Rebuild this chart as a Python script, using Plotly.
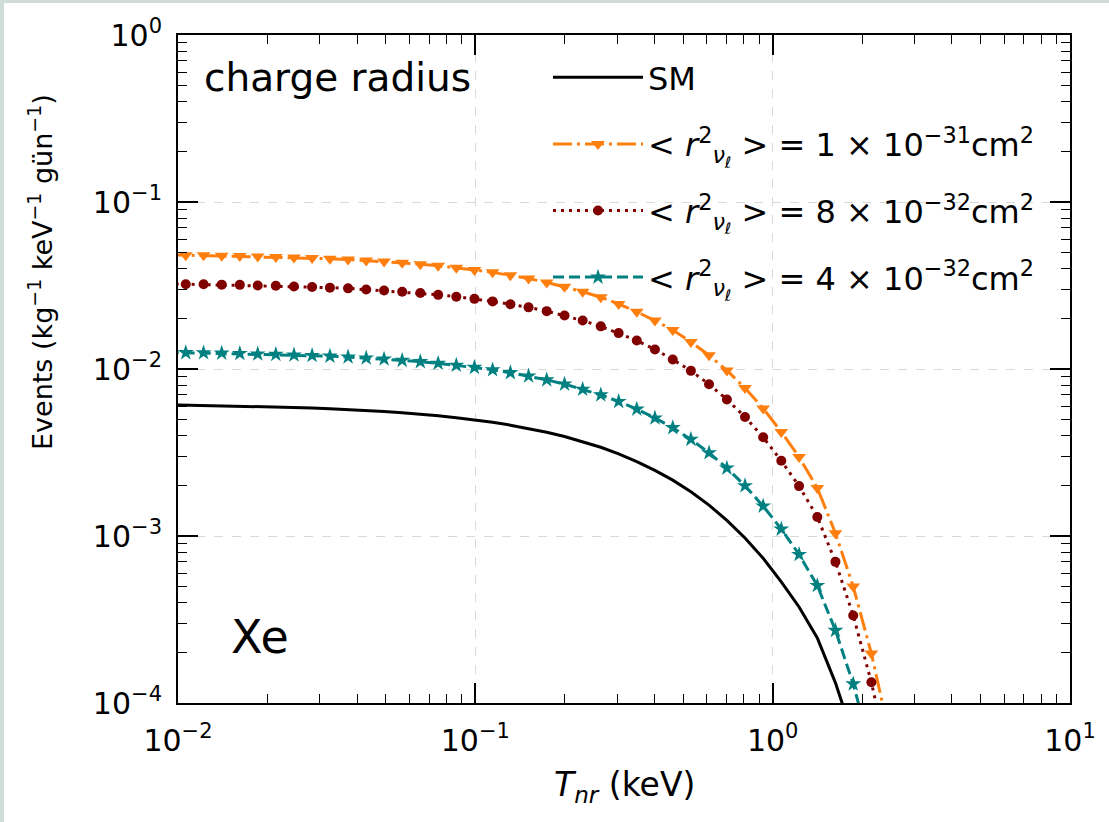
import plotly.graph_objects as go

# Recoil energy grid (keV)
T_nr = [0.00923, 0.01062, 0.01219, 0.01403, 0.01614, 0.01854, 0.02133, 0.02455, 0.02825, 0.03243,
        0.03733, 0.04295, 0.04932, 0.05675, 0.06531, 0.07499, 0.0863, 0.09931, 0.1143, 0.1312,
        0.151, 0.1738, 0.1995, 0.2296, 0.2642, 0.3034, 0.3491, 0.4018, 0.4613, 0.5309,
        0.6109, 0.7015, 0.8072, 0.929, 1.069, 1.227, 1.413, 1.626, 1.866, 2.148, 2.472]

sm = [6.11e-3, 6.08e-3, 6.07e-3, 6.04e-3, 6.01e-3, 5.97e-3, 5.94e-3, 5.89e-3, 5.85e-3, 5.79e-3,
      5.73e-3, 5.65e-3, 5.57e-3, 5.47e-3, 5.37e-3, 5.25e-3, 5.11e-3, 4.96e-3, 4.80e-3, 4.61e-3,
      4.41e-3, 4.18e-3, 3.94e-3, 3.67e-3, 3.40e-3, 3.10e-3, 2.79e-3, 2.47e-3, 2.16e-3, 1.84e-3,
      1.53e-3, 1.24e-3, 9.73e-4, 7.35e-4, 5.32e-4, 3.76e-4, 2.45e-4, 1.32e-4, 6.3e-5, 2.5e-5, 8.1e-6]

r2_1e31 = [0.0483, 0.0480, 0.0480, 0.0477, 0.0475, 0.0472, 0.0469, 0.0465, 0.0462, 0.0457,
           0.0453, 0.0446, 0.0440, 0.0432, 0.0424, 0.0415, 0.0404, 0.0392, 0.0379, 0.0364,
           0.0348, 0.0330, 0.0311, 0.0290, 0.0269, 0.0245, 0.0220, 0.0195, 0.0171, 0.0145,
           0.0121, 0.0098, 0.00769, 0.00581, 0.00420, 0.00297, 0.00194, 0.00104, 0.000498, 0.000198, 0.000064]

r2_8e32 = [0.0324, 0.0322, 0.0322, 0.0320, 0.0319, 0.0316, 0.0315, 0.0312, 0.0310, 0.0307,
           0.0304, 0.0299, 0.0295, 0.0290, 0.0285, 0.0278, 0.0271, 0.0263, 0.0254, 0.0244,
           0.0234, 0.0222, 0.0209, 0.0195, 0.0180, 0.0164, 0.0148, 0.0131, 0.0114, 0.00975,
           0.00811, 0.00657, 0.00516, 0.00390, 0.00282, 0.00199, 0.00130, 0.000700, 0.000334, 0.000133, 0.000043]

r2_4e32 = [0.01259, 0.01252, 0.01250, 0.01244, 0.01238, 0.01230, 0.01224, 0.01213, 0.01205, 0.01193,
           0.01180, 0.01164, 0.01147, 0.01127, 0.01106, 0.01082, 0.01053, 0.01022, 0.00989, 0.00950,
           0.00908, 0.00861, 0.00812, 0.00756, 0.00700, 0.00639, 0.00575, 0.00509, 0.00445, 0.00379,
           0.00315, 0.00255, 0.00200, 0.00151, 0.00110, 0.000775, 0.000505, 0.000272, 0.000130, 0.0000515, 0.0000167]

x_major = [0.01, 0.1, 1, 10]
x_major_text = ["10<sup>−2</sup>", "10<sup>−1</sup>", "10<sup>0</sup>", "10<sup>1</sup>"]
y_major = [1e-4, 1e-3, 1e-2, 1e-1, 1]
y_major_text = ["10<sup>−4</sup>", "10<sup>−3</sup>", "10<sup>−2</sup>", "10<sup>−1</sup>", "10<sup>0</sup>"]

x_minor = [m * d for d in (0.01, 0.1, 1) for m in range(2, 10)]
y_minor = [m * d for d in (1e-4, 1e-3, 1e-2, 1e-1) for m in range(2, 10)]

labels = ["SM",
          "&lt; <i>r</i><sup>2</sup><sub><i>ν</i><sub>ℓ</sub></sub> &gt; = 1 × 10<sup>−31</sup>cm<sup>2</sup>",
          "&lt; <i>r</i><sup>2</sup><sub><i>ν</i><sub>ℓ</sub></sub> &gt; = 8 × 10<sup>−32</sup>cm<sup>2</sup>",
          "&lt; <i>r</i><sup>2</sup><sub><i>ν</i><sub>ℓ</sub></sub> &gt; = 4 × 10<sup>−32</sup>cm<sup>2</sup>"]

FONT = "DejaVu Sans"
fig = go.Figure()
fig.add_trace(go.Scatter(x=T_nr, y=sm, mode="lines", name=labels[0], legendgroup="a",
                         line=dict(color="black", width=3)))
fig.add_trace(go.Scatter(x=T_nr, y=r2_1e31, mode="lines+markers", name=labels[1], legendgroup="b",
                         line=dict(color="#ff7f0e", width=3, dash="19px,5px,3px,5px"),
                         marker=dict(symbol="triangle-down", size=12, color="#ff7f0e")))
fig.add_trace(go.Scatter(x=T_nr, y=r2_8e32, mode="lines+markers", name=labels[2], legendgroup="c",
                         line=dict(color="#800000", width=3, dash="3px,5px"),
                         marker=dict(symbol="circle", size=10, color="#800000")))
fig.add_trace(go.Scatter(x=T_nr, y=r2_4e32, mode="lines+markers", name=labels[3], legendgroup="d",
                         line=dict(color="#008080", width=3, dash="11px,5px"),
                         marker=dict(symbol="star", size=12, color="#008080")))

axis_common = dict(
    type="log", showline=True, linecolor="black", linewidth=2, mirror="ticks",
    ticks="inside", ticklen=20, tickwidth=1.5, tickcolor="black",
    showgrid=True, gridcolor="#d9d9d9", gridwidth=1, griddash="dash",
    zeroline=False, tickfont=dict(family=FONT, size=30, color="black"),
)

fig.update_xaxes(range=[-2, 1], tickmode="array", tickvals=x_major, ticktext=x_major_text,
                 ticklabelstandoff=10,
                 minor=dict(tickmode="array", tickvals=x_minor, ticks="inside", ticklen=9,
                            tickwidth=1.2, tickcolor="black", showgrid=False),
                 **axis_common)
fig.update_yaxes(range=[-4, 0], tickmode="array", tickvals=y_major, ticktext=y_major_text,
                 ticklabelstandoff=8,
                 minor=dict(tickmode="array", tickvals=y_minor, ticks="inside", ticklen=9,
                            tickwidth=1.2, tickcolor="black", showgrid=False),
                 **axis_common)

W, H = 1109, 822
ml, mr, mt, mb = 178, 39, 35, 119
pw, ph = W - ml - mr, H - mt - mb

fig.update_layout(
    width=W, height=H,
    margin=dict(l=ml, r=mr, t=mt, b=mb, autoexpand=False),
    paper_bgcolor="white", plot_bgcolor="white",
    font=dict(family=FONT, color="black"),
    showlegend=True,
    legend=dict(x=(548 - ml) / pw, y=1 - (50 - mt) / ph, xanchor="left", yanchor="top",
                bgcolor="rgba(0,0,0,0)", borderwidth=0,
                font=dict(family=FONT, size=32, color="black"),
                traceorder="grouped", tracegroupgap=22, itemwidth=90),
    annotations=[
        dict(text="charge radius", x=(202 - ml) / pw, y=1 - (78 - mt) / ph, xref="paper", yref="paper",
             xanchor="left", yanchor="middle", showarrow=False,
             font=dict(family=FONT, size=39, color="black")),
        dict(text="Xe", x=(229 - ml) / pw, y=1 - (637 - mt) / ph, xref="paper", yref="paper",
             xanchor="left", yanchor="middle", showarrow=False,
             font=dict(family=FONT, size=46, color="black")),
        dict(text="Events (kg<sup>−1</sup> keV<sup>−1</sup> gün<sup>−1</sup>)",
             x=(40 - ml) / pw, y=1 - (272 - mt) / ph, xref="paper", yref="paper",
             xanchor="center", yanchor="middle", textangle=-90, showarrow=False,
             font=dict(family=FONT, size=27, color="black")),
        dict(text="<i>T</i><sub><i>nr</i></sub> (keV)",
             x=0.5, y=1 - (786 - mt) / ph, xref="paper", yref="paper",
             xanchor="center", yanchor="middle", showarrow=False,
             font=dict(family=FONT, size=33, color="black")),
    ],
    shapes=[
        dict(type="rect", xref="paper", yref="paper", x0=-ml / pw, x1=(4 - ml) / pw,
             y0=-mb / ph, y1=1 + mt / ph, fillcolor="#d0dcd8", line=dict(width=0), layer="below"),
        dict(type="rect", xref="paper", yref="paper", x0=-ml / pw, x1=1 + mr / pw,
             y0=1 + (mt - 3) / ph, y1=1 + mt / ph, fillcolor="#d0dcd8", line=dict(width=0), layer="below"),
    ],
)

fig.write_html("out.html")
